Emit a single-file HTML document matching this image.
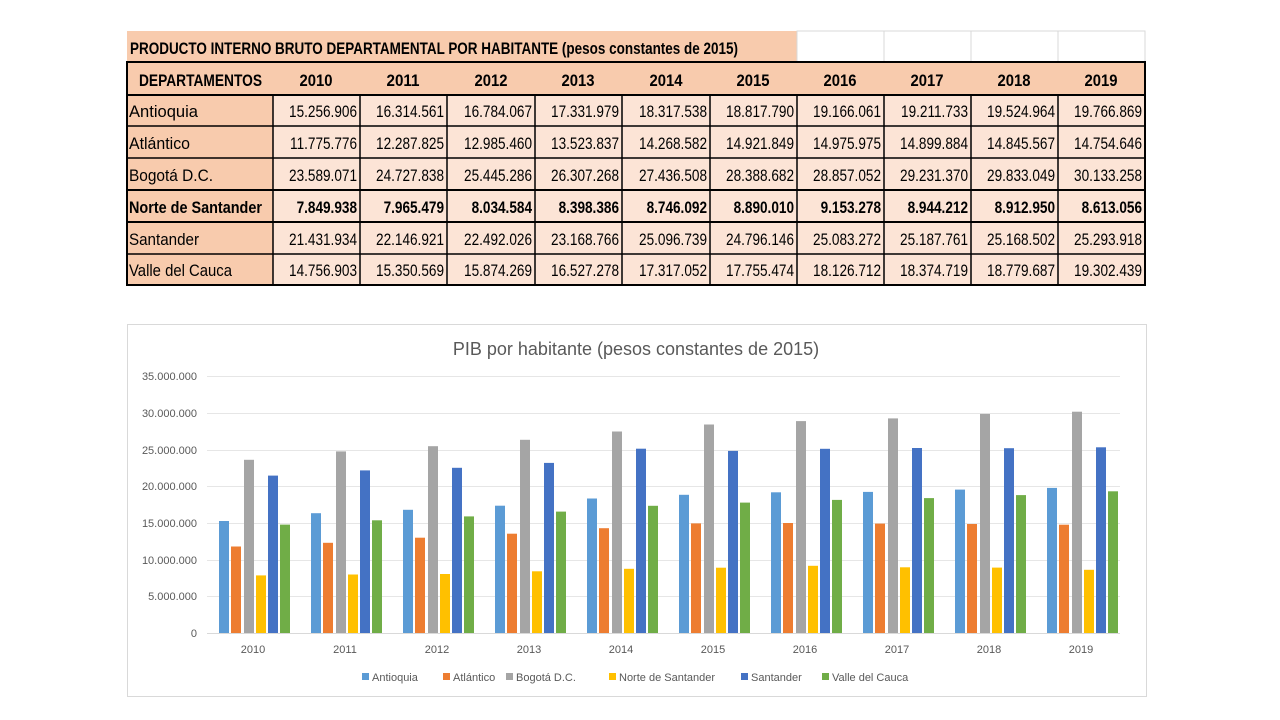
<!DOCTYPE html>
<html><head><meta charset="utf-8"><style>
html,body{margin:0;padding:0;background:#fff;width:1280px;height:720px;overflow:hidden}
svg{display:block}
.t{font-family:"Liberation Sans Narrow","Liberation Sans",sans-serif;font-size:17px;fill:#000}
.b{font-weight:bold}
.c{font-family:"Liberation Sans",sans-serif;fill:#595959}
</style></head><body>
<svg width="1280" height="720" xmlns="http://www.w3.org/2000/svg">
<rect x="127" y="31" width="670" height="31" fill="#F8CBAD"/>
<g stroke="#d9d9d9" fill="none" stroke-width="1">
<rect x="797" y="31" width="348" height="31"/>
<line x1="884" y1="31" x2="884" y2="62"/><line x1="971" y1="31" x2="971" y2="62"/><line x1="1058" y1="31" x2="1058" y2="62"/>
</g>
<rect x="127" y="62" width="1018" height="33" fill="#F8CBAD"/>
<rect x="127" y="95" width="146" height="190" fill="#F8CBAD"/>
<rect x="273" y="95" width="872" height="190" fill="#FCE4D6"/>
<g stroke="#000" stroke-width="1.5" fill="none">
<rect x="127" y="62" width="1018" height="223" stroke-width="2"/>
<line x1="127" y1="95" x2="1145" y2="95" stroke-width="2"/>
<line x1="127" y1="126" x2="1145" y2="126"/>
<line x1="127" y1="158" x2="1145" y2="158"/>
<line x1="127" y1="190" x2="1145" y2="190" stroke-width="2"/>
<line x1="127" y1="222" x2="1145" y2="222" stroke-width="2"/>
<line x1="127" y1="254" x2="1145" y2="254"/>
<line x1="273" y1="95" x2="273" y2="285"/><line x1="360" y1="95" x2="360" y2="285"/>
<line x1="447" y1="95" x2="447" y2="285"/><line x1="535" y1="95" x2="535" y2="285"/>
<line x1="622" y1="95" x2="622" y2="285"/><line x1="710" y1="95" x2="710" y2="285"/>
<line x1="797" y1="95" x2="797" y2="285"/><line x1="884" y1="95" x2="884" y2="285"/>
<line x1="971" y1="95" x2="971" y2="285"/><line x1="1058" y1="95" x2="1058" y2="285"/>
</g>
<text class="t b" x="130" y="54" textLength="608" lengthAdjust="spacingAndGlyphs">PRODUCTO INTERNO BRUTO DEPARTAMENTAL POR HABITANTE (pesos constantes de 2015)</text>
<text class="t b" x="139" y="86" textLength="123" lengthAdjust="spacingAndGlyphs">DEPARTAMENTOS</text>
<g class="t b" text-anchor="middle">
<text x="316" y="86" textLength="33" lengthAdjust="spacingAndGlyphs">2010</text><text x="403" y="86" textLength="33" lengthAdjust="spacingAndGlyphs">2011</text><text x="491" y="86" textLength="33" lengthAdjust="spacingAndGlyphs">2012</text>
<text x="578" y="86" textLength="33" lengthAdjust="spacingAndGlyphs">2013</text><text x="666" y="86" textLength="33" lengthAdjust="spacingAndGlyphs">2014</text><text x="753" y="86" textLength="33" lengthAdjust="spacingAndGlyphs">2015</text>
<text x="840" y="86" textLength="33" lengthAdjust="spacingAndGlyphs">2016</text><text x="927" y="86" textLength="33" lengthAdjust="spacingAndGlyphs">2017</text><text x="1014" y="86" textLength="33" lengthAdjust="spacingAndGlyphs">2018</text><text x="1101" y="86" textLength="33" lengthAdjust="spacingAndGlyphs">2019</text>
</g>
<g class="t">
<text x="129" y="117" textLength="69" lengthAdjust="spacingAndGlyphs">Antioquia</text>
<text x="129" y="149" textLength="61" lengthAdjust="spacingAndGlyphs">Atlántico</text>
<text x="129" y="181" textLength="84" lengthAdjust="spacingAndGlyphs">Bogotá D.C.</text>
<text x="129" y="213" class="b" textLength="133" lengthAdjust="spacingAndGlyphs">Norte de Santander</text>
<text x="129" y="245" textLength="70" lengthAdjust="spacingAndGlyphs">Santander</text>
<text x="129" y="276" textLength="103" lengthAdjust="spacingAndGlyphs">Valle del Cauca</text>
</g>
<g class="t" text-anchor="end">
<g transform="translate(357,0) scale(0.8,1)"><text y="117">15.256.906</text><text y="149">11.775.776</text><text y="181">23.589.071</text><text y="213" class="b">7.849.938</text><text y="245">21.431.934</text><text y="276">14.756.903</text></g>
<g transform="translate(444,0) scale(0.8,1)"><text y="117">16.314.561</text><text y="149">12.287.825</text><text y="181">24.727.838</text><text y="213" class="b">7.965.479</text><text y="245">22.146.921</text><text y="276">15.350.569</text></g>
<g transform="translate(532,0) scale(0.8,1)"><text y="117">16.784.067</text><text y="149">12.985.460</text><text y="181">25.445.286</text><text y="213" class="b">8.034.584</text><text y="245">22.492.026</text><text y="276">15.874.269</text></g>
<g transform="translate(619,0) scale(0.8,1)"><text y="117">17.331.979</text><text y="149">13.523.837</text><text y="181">26.307.268</text><text y="213" class="b">8.398.386</text><text y="245">23.168.766</text><text y="276">16.527.278</text></g>
<g transform="translate(707,0) scale(0.8,1)"><text y="117">18.317.538</text><text y="149">14.268.582</text><text y="181">27.436.508</text><text y="213" class="b">8.746.092</text><text y="245">25.096.739</text><text y="276">17.317.052</text></g>
<g transform="translate(794,0) scale(0.8,1)"><text y="117">18.817.790</text><text y="149">14.921.849</text><text y="181">28.388.682</text><text y="213" class="b">8.890.010</text><text y="245">24.796.146</text><text y="276">17.755.474</text></g>
<g transform="translate(881,0) scale(0.8,1)"><text y="117">19.166.061</text><text y="149">14.975.975</text><text y="181">28.857.052</text><text y="213" class="b">9.153.278</text><text y="245">25.083.272</text><text y="276">18.126.712</text></g>
<g transform="translate(968,0) scale(0.8,1)"><text y="117">19.211.733</text><text y="149">14.899.884</text><text y="181">29.231.370</text><text y="213" class="b">8.944.212</text><text y="245">25.187.761</text><text y="276">18.374.719</text></g>
<g transform="translate(1055,0) scale(0.8,1)"><text y="117">19.524.964</text><text y="149">14.845.567</text><text y="181">29.833.049</text><text y="213" class="b">8.912.950</text><text y="245">25.168.502</text><text y="276">18.779.687</text></g>
<g transform="translate(1142,0) scale(0.8,1)"><text y="117">19.766.869</text><text y="149">14.754.646</text><text y="181">30.133.258</text><text y="213" class="b">8.613.056</text><text y="245">25.293.918</text><text y="276">19.302.439</text></g>
</g>

<rect x="127.5" y="324.5" width="1019" height="372" fill="#fff" stroke="#d9d9d9"/>
<text class="c" x="636" y="355" text-anchor="middle" font-size="18">PIB por habitante (pesos constantes de 2015)</text>
<g stroke="#e6e6e6" stroke-width="1">
<line x1="207" y1="376.5" x2="1120" y2="376.5"/><line x1="207" y1="413.5" x2="1120" y2="413.5"/>
<line x1="207" y1="450.5" x2="1120" y2="450.5"/><line x1="207" y1="486.5" x2="1120" y2="486.5"/>
<line x1="207" y1="523.5" x2="1120" y2="523.5"/><line x1="207" y1="560.5" x2="1120" y2="560.5"/>
<line x1="207" y1="596.5" x2="1120" y2="596.5"/>
</g>
<g class="c" font-size="11" text-anchor="end">
<text x="197" y="380">35.000.000</text><text x="197" y="417">30.000.000</text><text x="197" y="454">25.000.000</text>
<text x="197" y="490">20.000.000</text><text x="197" y="527">15.000.000</text><text x="197" y="564">10.000.000</text>
<text x="197" y="600">5.000.000</text><text x="197" y="637">0</text>
</g>
<g transform="translate(0,633) scale(1,-1)">
<g fill="#5B9BD5">
<rect x="219" width="10" height="112.0"/><rect x="311" width="10" height="119.8"/><rect x="403" width="10" height="123.2"/><rect x="495" width="10" height="127.3"/><rect x="587" width="10" height="134.5"/><rect x="679" width="10" height="138.2"/><rect x="771" width="10" height="140.7"/><rect x="863" width="10" height="141.1"/><rect x="955" width="10" height="143.4"/><rect x="1047" width="10" height="145.1"/>
</g>
<g fill="#ED7D31" transform="translate(12,0)">
<rect x="219" width="10" height="86.5"/><rect x="311" width="10" height="90.2"/><rect x="403" width="10" height="95.3"/><rect x="495" width="10" height="99.3"/><rect x="587" width="10" height="104.8"/><rect x="679" width="10" height="109.6"/><rect x="771" width="10" height="110.0"/><rect x="863" width="10" height="109.4"/><rect x="955" width="10" height="109.0"/><rect x="1047" width="10" height="108.3"/>
</g>
<g fill="#A5A5A5" transform="translate(25,0)">
<rect x="219" width="10" height="173.2"/><rect x="311" width="10" height="181.6"/><rect x="403" width="10" height="186.8"/><rect x="495" width="10" height="193.2"/><rect x="587" width="10" height="201.5"/><rect x="679" width="10" height="208.5"/><rect x="771" width="10" height="211.9"/><rect x="863" width="10" height="214.6"/><rect x="955" width="10" height="219.1"/><rect x="1047" width="10" height="221.3"/>
</g>
<g fill="#FFC000" transform="translate(37,0)">
<rect x="219" width="10" height="57.6"/><rect x="311" width="10" height="58.5"/><rect x="403" width="10" height="59.0"/><rect x="495" width="10" height="61.7"/><rect x="587" width="10" height="64.2"/><rect x="679" width="10" height="65.3"/><rect x="771" width="10" height="67.2"/><rect x="863" width="10" height="65.7"/><rect x="955" width="10" height="65.4"/><rect x="1047" width="10" height="63.2"/>
</g>
<g fill="#4472C4" transform="translate(49,0)">
<rect x="219" width="10" height="157.4"/><rect x="311" width="10" height="162.6"/><rect x="403" width="10" height="165.2"/><rect x="495" width="10" height="170.1"/><rect x="587" width="10" height="184.3"/><rect x="679" width="10" height="182.1"/><rect x="771" width="10" height="184.2"/><rect x="863" width="10" height="185.0"/><rect x="955" width="10" height="184.8"/><rect x="1047" width="10" height="185.7"/>
</g>
<g fill="#70AD47" transform="translate(61,0)">
<rect x="219" width="10" height="108.4"/><rect x="311" width="10" height="112.7"/><rect x="403" width="10" height="116.6"/><rect x="495" width="10" height="121.4"/><rect x="587" width="10" height="127.2"/><rect x="679" width="10" height="130.4"/><rect x="771" width="10" height="133.1"/><rect x="863" width="10" height="134.9"/><rect x="955" width="10" height="137.9"/><rect x="1047" width="10" height="141.7"/>
</g>
</g>
<line x1="207" y1="633.5" x2="1120" y2="633.5" stroke="#d9d9d9"/>
<g class="c" font-size="11" text-anchor="middle">
<text x="253" y="653">2010</text><text x="345" y="653">2011</text><text x="437" y="653">2012</text><text x="529" y="653">2013</text><text x="621" y="653">2014</text>
<text x="713" y="653">2015</text><text x="805" y="653">2016</text><text x="897" y="653">2017</text><text x="989" y="653">2018</text><text x="1081" y="653">2019</text>
</g>
<g class="c" font-size="11">
<rect x="362" y="673" width="7" height="7" fill="#5B9BD5"/><text x="372" y="681">Antioquia</text>
<rect x="443" y="673" width="7" height="7" fill="#ED7D31"/><text x="453" y="681">Atlántico</text>
<rect x="506" y="673" width="7" height="7" fill="#A5A5A5"/><text x="516" y="681">Bogotá D.C.</text>
<rect x="609" y="673" width="7" height="7" fill="#FFC000"/><text x="619" y="681">Norte de Santander</text>
<rect x="741" y="673" width="7" height="7" fill="#4472C4"/><text x="751" y="681">Santander</text>
<rect x="822" y="673" width="7" height="7" fill="#70AD47"/><text x="832" y="681">Valle del Cauca</text>
</g>
</svg>
</body></html>
